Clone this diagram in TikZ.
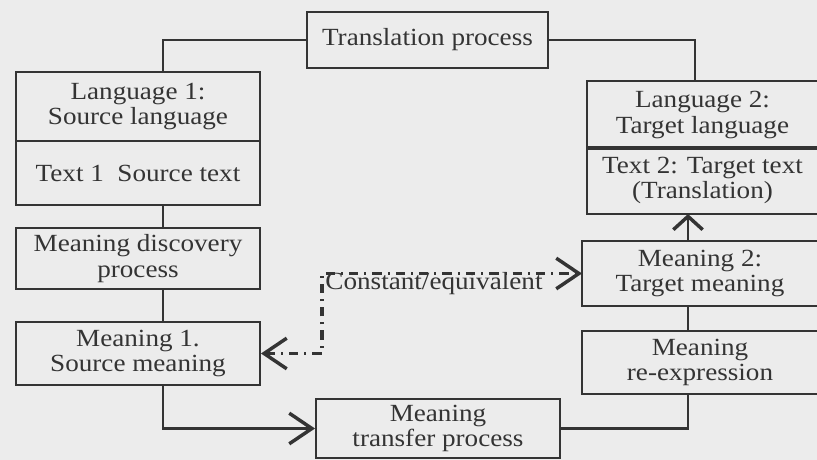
\documentclass[tikz,border=0pt]{standalone}
\usepackage{fontspec}
\setmainfont{Liberation Serif}[FakeStretch=1.1]
\usetikzlibrary{arrows.meta}

\definecolor{inkgray}{RGB}{52,52,52}
\definecolor{scangray}{RGB}{236,236,236}

\tikzset{every picture/.style={line width=0.75pt}}
\tikzset{
	box/.style={draw=inkgray, line width=1.5pt, text=inkgray, align=center, inner sep=0pt, font=\fontsize{18.5}{19}\selectfont},
	open box/.style={box, draw=none},
	open side/.style={draw=inkgray, line width=1.5pt},
	link/.style={draw=inkgray, line width=1.7pt},
	barb/.style={-{Straight Barb[length=17pt,width=23pt,line width=2.6pt]}},
	small barb/.style={-{Straight Barb[length=10pt,width=22pt,line width=2.6pt]}},
	dashdot link/.style={draw=inkgray, line width=2.6pt, dash pattern=on 7pt off 4.5pt on 1.5pt off 4.5pt}
}

\begin{document}
\begin{tikzpicture}[x=0.75pt,y=0.75pt,yscale=-1,xscale=1]
	\fill[scangray] (0,0) rectangle (817,460);
	\useasboundingbox (0,0) rectangle (817,460);

	%Spines for the connectors
	\coordinate (lspine) at (163,0);
	\coordinate (rspine) at (688,0);
	\coordinate (tspine) at (695,0);
	\coordinate (dcorner) at (322,0);

	%Top box
	\node[box, minimum width=180.75pt, minimum height=42pt] (trans) at (427.5,40) {Translation process};

	%Left column
	\node[box, minimum width=183pt, minimum height=51.75pt] (lang1) at (138,106.5) {Language 1:\\Source language};
	\node[box, minimum width=183pt, minimum height=48pt] (text1) at (138,173) {Text 1\ \ Source text};
	\node[box, minimum width=183pt, minimum height=45.75pt] (disc) at (138,258.5) {Meaning discovery\\process};
	\node[box, minimum width=183pt, minimum height=47.25pt] (mean1) at (138,353.5) {Meaning 1.\\Source meaning};

	%Bottom box
	\node[box, minimum width=183pt, minimum height=44.25pt] (transfer) at (438,428.5) {Meaning\\transfer process};

	%Right column (open at the right edge)
	\node[open box, minimum width=171.75pt, minimum height=49.5pt] (lang2) at (702.5,115) {Language 2:\\Target language};
	\node[open box, minimum width=171.75pt, minimum height=48.75pt] (text2) at (702.5,180.5) {Text 2: Target text\\(Translation)};
	\node[open box, minimum width=175.5pt, minimum height=47.25pt] (mean2) at (700,273.5) {Meaning 2:\\Target meaning};
	\node[open box, minimum width=175.5pt, minimum height=45.75pt] (reexp) at (700,362.5) {Meaning\\re-expression};
	\foreach \n in {lang2,text2,mean2,reexp}
		\draw[open side] (\n.north east) -- (\n.north west) -- (\n.south west) -- (\n.south east);

	% Text Node
	\node[text=inkgray, font=\fontsize{18.5}{19}\selectfont] (eqlabel) at (434,284) {Constant/equivalent};

	%Connectors
	\draw[link] (trans.west) -| (lang1.north -| lspine);
	\draw[link] (trans.east) -| (lang2.north -| tspine);
	\draw[link] (text1.south -| lspine) -- (disc.north -| lspine);
	\draw[link] (disc.south -| lspine) -- (mean1.north -| lspine);
	\draw[link, barb] (mean1.south -| lspine) |- (transfer.west);
	\draw[link] (transfer.east) -| (reexp.south -| rspine);
	\draw[link] (reexp.north -| rspine) -- (mean2.south -| rspine);
	\draw[link, small barb] (mean2.north -| rspine) -- (text2.south -| rspine);

	%Dash-dot double arrow
	\draw[dashdot link, {Straight Barb[length=17pt,width=23pt,line width=2.6pt]}-{Straight Barb[length=17pt,width=23pt,line width=2.6pt]}] (mean1.east) -| (dcorner |- mean2.west) -- (mean2.west);

\end{tikzpicture}
\end{document}
